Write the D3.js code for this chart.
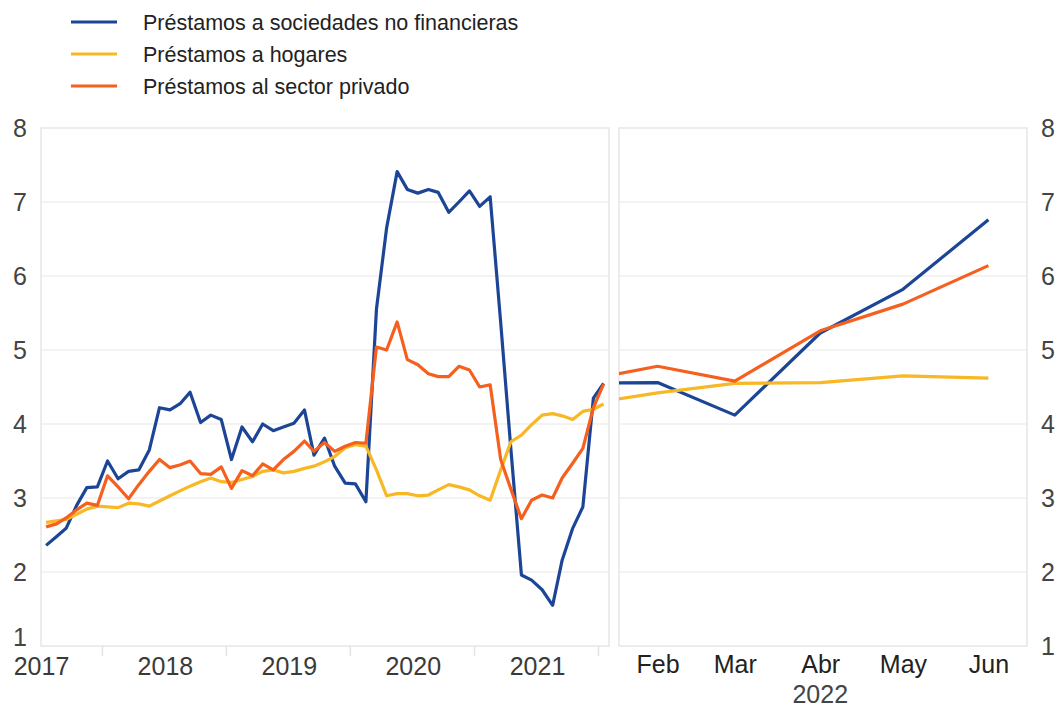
<!DOCTYPE html>
<html><head><meta charset="utf-8">
<script src="https://cdn.jsdelivr.net/npm/d3@7"></script>
<style>
body{margin:0;background:#fff;}
text{font-family:"Liberation Sans",Arial,Helvetica,sans-serif;}
</style></head>
<body>
<svg id="chart" width="1057" height="707"></svg>
<script>
// ---- data ----
const seriesNames = ["Préstamos a sociedades no financieras","Préstamos a hogares","Préstamos al sector privado"];
const seriesColors = ["#1d4596","#f8b724","#f5601f"];
const yTicks = [1,2,3,4,5,6,7,8];
const leftYearLabels = ["2017","2018","2019","2020","2021"];
const rightMonthLabels = ["Feb","Mar","Abr","May","Jun"];
const rightYearLabel = "2022";

// monthly, Jan 2017 .. Jul 2021
const nfcLeft = [2.36,2.48,2.59,2.9,3.14,3.15,3.5,3.26,3.36,3.38,
 3.65,4.22,4.19,4.28,4.43,4.02,4.12,4.06,3.52,3.96,
 3.76,4.0,3.91,3.96,4.01,4.19,3.58,3.81,3.43,3.2,
 3.19,2.95,5.55,6.65,7.41,7.17,7.12,7.17,7.13,6.86,
 7.0,7.15,6.94,7.07,5.37,3.66,1.96,1.89,1.76,1.55,
 2.16,2.59,2.88,4.35,4.55];
const hhLeft = [2.67,2.69,2.71,2.78,2.85,2.89,2.88,2.87,2.93,2.92,
 2.89,2.96,3.03,3.1,3.16,3.22,3.27,3.22,3.21,3.25,
 3.29,3.36,3.38,3.34,3.36,3.4,3.43,3.49,3.56,3.68,
 3.72,3.7,3.38,3.03,3.06,3.06,3.03,3.04,3.11,3.18,
 3.15,3.11,3.03,2.97,3.38,3.76,3.85,3.99,4.12,4.14,
 4.11,4.06,4.17,4.2,4.27];
const pvtLeft = [2.61,2.65,2.73,2.84,2.93,2.9,3.3,3.15,2.99,3.18,
 3.36,3.52,3.41,3.45,3.5,3.33,3.32,3.42,3.13,3.37,
 3.3,3.46,3.38,3.52,3.63,3.77,3.63,3.75,3.63,3.7,
 3.75,3.74,5.04,5.0,5.38,4.87,4.8,4.68,4.64,4.64,
 4.78,4.73,4.5,4.53,3.52,3.12,2.72,2.97,3.04,3.0,
 3.27,3.47,3.67,4.22,4.54];
// monthly, Jan 2022 .. Jun 2022
const nfcRight = [4.55,4.56,4.12,5.23,5.82,6.76];
const hhRight  = [4.24,4.42,4.55,4.56,4.65,4.62];
const pvtRight = [4.56,4.78,4.58,5.26,5.62,6.14];

// ---- layout ----
const svg = d3.select("#chart");
const plotTop = 128, plotBottom = 646;
const L = {x0:41, x1:609}, R = {x0:619, x1:1027};
const y = d3.scaleLinear().domain([1,8]).range([plotBottom, plotTop]);
const xL = d3.scaleTime().domain([new Date(2017,0,1), new Date(2021,7,1)]).range([L.x0, L.x1]);
const xR = d3.scaleTime().domain([new Date(2022,0,18), new Date(2022,5,15)]).range([R.x0, R.x1]);

const leftDates = nfcLeft.map((_,i)=>new Date(2017,i,16));
const rightDates = nfcRight.map((_,i)=>new Date(2022,i,1));

const defs = svg.append("defs");
[["clipL",L],["clipR",R]].forEach(([id,p])=>{
  defs.append("clipPath").attr("id",id).append("rect")
    .attr("x",p.x0).attr("y",plotTop-10).attr("width",p.x1-p.x0).attr("height",plotBottom-plotTop+20);
});

// panels: grid + frame
[L,R].forEach(p=>{
  const g = svg.append("g");
  g.selectAll("line.grid").data(yTicks.slice(1,-1)).enter().append("line")
    .attr("x1",p.x0).attr("x2",p.x1).attr("y1",d=>y(d)).attr("y2",d=>y(d))
    .attr("stroke","#efefef").attr("stroke-width",1.5);
  g.append("rect").attr("x",p.x0).attr("y",plotTop).attr("width",p.x1-p.x0).attr("height",plotBottom-plotTop)
    .attr("fill","none").attr("stroke","#e6e6e6").attr("stroke-width",1.5);
});

// y axes (no domain)
const yAxisL = svg.append("g").attr("transform",`translate(${L.x0},0)`)
  .call(d3.axisLeft(y).tickValues(yTicks).tickFormat(d3.format("d")).tickSize(0).tickPadding(14));
const yAxisR = svg.append("g").attr("transform",`translate(${R.x1},0)`)
  .call(d3.axisRight(y).tickValues(yTicks).tickFormat(d3.format("d")).tickSize(0).tickPadding(14));
[yAxisL,yAxisR].forEach(a=>{
  a.select(".domain").remove();
  a.selectAll("text").attr("font-size",25).attr("fill","#444").attr("text-anchor","middle");
});
yAxisL.selectAll("text").attr("x",-21);
yAxisR.selectAll("text").attr("x",21);
// lowest left label sits just above the year labels
yAxisL.selectAll(".tick").filter(d=>d===1).select("text").attr("y",-9);

// x axis left
const yearDates = leftYearLabels.map(s=>new Date(+s,0,1));
const xAxisL = svg.append("g").attr("transform",`translate(0,${plotBottom})`)
  .call(d3.axisBottom(xL).tickValues(yearDates).tickFormat((d,i)=>leftYearLabels[i]).tickSize(0).tickPadding(11));
xAxisL.select(".domain").remove();
xAxisL.selectAll("text").attr("font-size",25).attr("fill","#3a3a3a");
// faint mid-year ticks
svg.append("g").selectAll("line").data(leftYearLabels.map(s=>new Date(+s,6,1))).enter().append("line")
  .attr("x1",d=>xL(d)).attr("x2",d=>xL(d)).attr("y1",plotBottom).attr("y2",plotBottom+10)
  .attr("stroke","#e4e4e4").attr("stroke-width",1.5);

// x axis right
const monthDates = rightMonthLabels.map((_,i)=>new Date(2022,i+1,1));
const xAxisR = svg.append("g").attr("transform",`translate(0,${plotBottom})`)
  .call(d3.axisBottom(xR).tickValues(monthDates).tickFormat((d,i)=>rightMonthLabels[i]).tickSize(0).tickPadding(9));
xAxisR.select(".domain").remove();
xAxisR.selectAll("text").attr("font-size",25).attr("fill","#222");
svg.append("text").attr("x",xR(new Date(2022,3,1))).attr("y",plotBottom+57)
  .attr("text-anchor","middle").attr("font-size",25).attr("fill","#444").text(rightYearLabel);

// lines
const leftSeries = [nfcLeft, hhLeft, pvtLeft];
const rightSeries = [nfcRight, hhRight, pvtRight];
const lineL = d3.line().x((d,i)=>xL(leftDates[i])).y(d=>y(d));
const lineR = d3.line().x((d,i)=>xR(rightDates[i])).y(d=>y(d));
const gl = svg.append("g").attr("clip-path","url(#clipL)");
const gr = svg.append("g").attr("clip-path","url(#clipR)");
[0,1,2].forEach(k=>{
  gl.append("path").attr("d",lineL(leftSeries[k])).attr("fill","none")
    .attr("stroke",seriesColors[k]).attr("stroke-width",3.2).attr("stroke-linejoin","round");
  gr.append("path").attr("d",lineR(rightSeries[k])).attr("fill","none")
    .attr("stroke",seriesColors[k]).attr("stroke-width",3.2).attr("stroke-linejoin","round");
});

// legend
const leg = svg.append("g");
seriesNames.forEach((n,i)=>{
  const yy = 22 + i*32;
  leg.append("line").attr("x1",71).attr("x2",117).attr("y1",yy).attr("y2",yy)
    .attr("stroke",seriesColors[i]).attr("stroke-width",3);
  leg.append("text").attr("x",143).attr("y",yy).attr("dy","0.35em")
    .attr("font-size",21.5).attr("fill","#222").text(n);
});
</script>
</body></html>
